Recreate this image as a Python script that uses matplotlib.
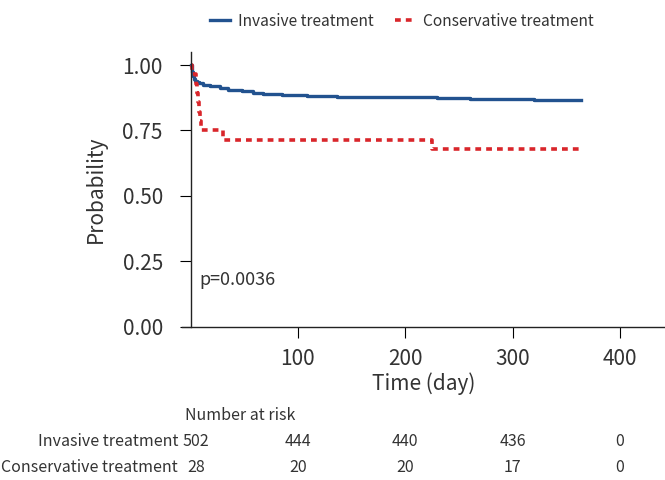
import matplotlib.pyplot as plt
import matplotlib.transforms as mtransforms
from matplotlib.lines import Line2D

plt.rcParams['font.family'] = ['Noto Sans CJK KR', 'DejaVu Sans']

# Kaplan-Meier estimates
inv_days = [0, 1, 2, 3, 4, 6, 8, 12, 18, 27, 35, 48, 58, 67, 85, 108, 120, 136, 180, 230, 260, 285, 320, 364]
inv_surv = [1.0, 0.975, 0.958, 0.948, 0.940, 0.935, 0.930, 0.925, 0.920, 0.913, 0.906, 0.900, 0.894, 0.890, 0.886, 0.883, 0.881, 0.878, 0.877, 0.875, 0.872, 0.870, 0.867, 0.866]

con_days = [0, 1, 5, 6, 7, 8, 9, 10, 30, 225, 363]
con_surv = [1.0, 0.964, 0.929, 0.893, 0.857, 0.821, 0.786, 0.75, 0.714, 0.679, 0.679]

risk_times = [5, 100, 200, 300, 400]
risk_inv = [502, 444, 440, 436, 0]
risk_con = [28, 20, 20, 17, 0]

blue = '#22528f'
red = '#d9262b'
txt = '#333333'

fig = plt.figure(figsize=(6.65, 4.8), dpi=100)
ax = fig.add_axes([182 / 665, (480 - 326.7) / 480, 483 / 665, (326.7 - 52) / 480])

ax.step(inv_days, inv_surv, where='post', color=blue, lw=2.4)
ax.step(con_days, con_surv, where='post', color=red, lw=2.6, linestyle=(0, (1.6, 1.4)))

ax.set_xlim(-8, 442)
ax.set_ylim(0, 1.05)
ax.spines['left'].set_position(('data', 0))
ax.spines['top'].set_visible(False)
ax.spines['right'].set_visible(False)
for s in ['left', 'bottom']:
    ax.spines[s].set_color('#222222')
    ax.spines[s].set_linewidth(1.0)

ax.set_xticks([100, 200, 300, 400])
ax.set_yticks([0, 0.25, 0.5, 0.75, 1.0])
ax.set_yticklabels(['0.00', '0.25', '0.50', '0.75', '1.00'])
ax.tick_params(axis='y', length=8, pad=12, labelsize=15, labelcolor=txt)
ax.tick_params(axis='x', length=8, pad=7, labelsize=15, labelcolor=txt)
ax.set_xlabel('Time (day)', fontsize=15, color=txt, labelpad=2)
ax.set_ylabel('Probability', fontsize=15, color=txt, labelpad=2)
ax.yaxis.set_label_coords(-0.155, 0.5)

ax.text(8, 0.18, 'p=0.0036', fontsize=13, color=txt, va='center', ha='left')

handles = [Line2D([], [], color=blue, lw=2.4),
           Line2D([], [], color=red, lw=2.6, linestyle=(0, (1.6, 1.4)))]
fig.legend(handles, ['Invasive treatment', 'Conservative treatment'],
           loc='center', bbox_to_anchor=(402 / 665, 1 - 21 / 480), ncol=2,
           frameon=False, fontsize=11.2, handlelength=1.3, columnspacing=1.4,
           handletextpad=0.5, labelcolor=txt)

# number at risk table
tr = mtransforms.blended_transform_factory(ax.transData, fig.transFigure)
fig.text(185 / 665, 1 - 415 / 480, 'Number at risk', fontsize=11.5, color=txt, va='center')
for label, vals, ypx in [('Invasive treatment', risk_inv, 442),
                         ('Conservative treatment', risk_con, 467)]:
    fig.text(178 / 665, 1 - ypx / 480, label, fontsize=11.5, color=txt, va='center', ha='right')
    for t, v in zip(risk_times, vals):
        ax.text(t, 1 - ypx / 480, str(v), transform=tr, fontsize=11.5, color=txt,
                va='center', ha='center', clip_on=False)

fig.savefig('out.png', dpi=100)
